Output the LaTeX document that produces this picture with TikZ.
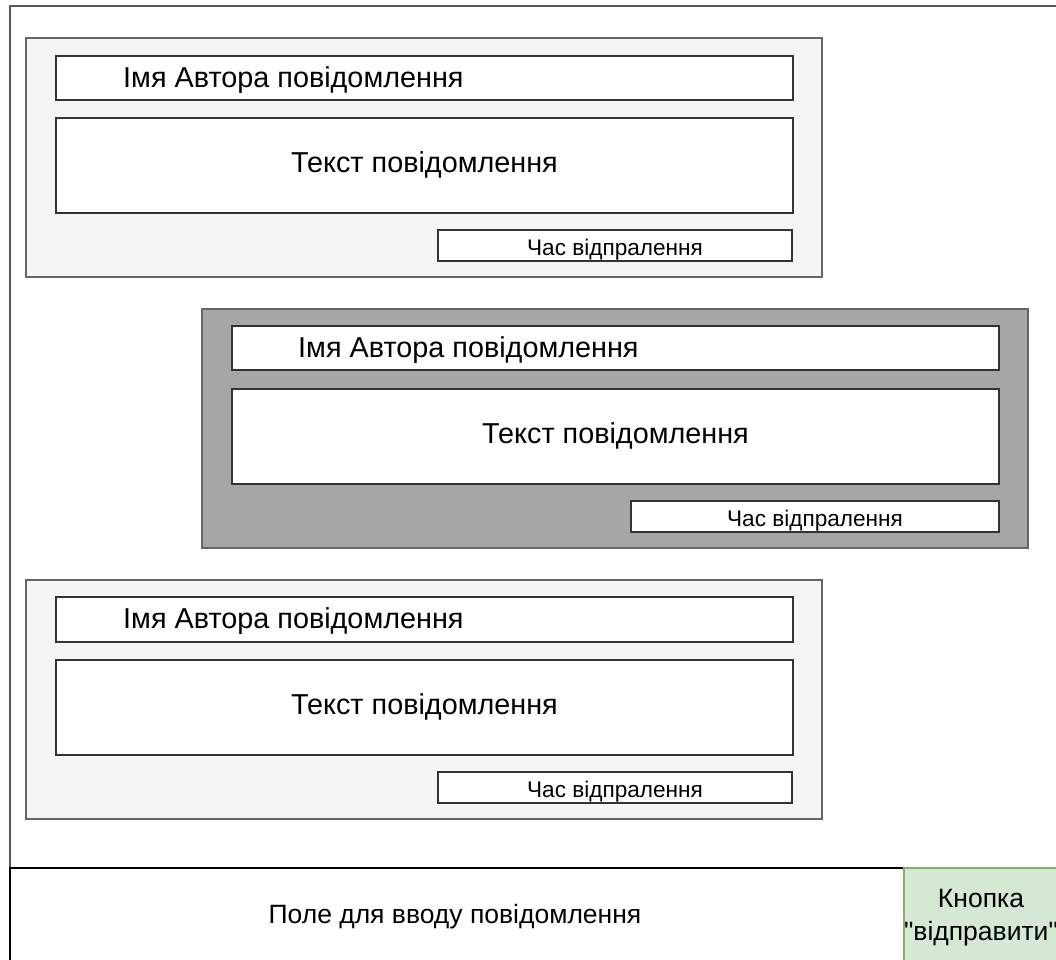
\documentclass[tikz,border=0pt]{standalone}
\usepackage{fontspec}
\setmainfont{Liberation Sans}
\begin{document}
\begin{tikzpicture}[x=1pt,y=-1pt,
  frame/.style={draw=black!65,line width=1.6pt},
  bubble/.style={draw=black!60,line width=1.5pt,fill=#1},
  field/.style={draw=black!80,line width=1.5pt,fill=white},
  bigtxt/.style={font=\fontsize{28.8}{33}\selectfont,inner sep=0pt,anchor=base},
  smalltxt/.style={font=\fontsize{22.6}{26}\selectfont,inner sep=0pt,anchor=base},
  inputtxt/.style={font=\fontsize{26.5}{30}\selectfont,inner sep=0pt,anchor=base},
]
\useasboundingbox (0,0) rectangle (1056,959);
\clip (0,0) rectangle (1056,959);

% outer window
\draw[frame] (10,6) rectangle (1070,975);

% message 1
\draw[bubble=black!4] (26,38) rectangle (822,277);
\draw[field] (56,56) rectangle (793,100);
\node[bigtxt,anchor=base west] (n1) at (123,87) {Імя Автора повідомлення};
\draw[field] (56,118) rectangle (793,213);
\node[bigtxt] (t1) at (424.5,172) {Текст повідомлення};
\draw[field] (438,230) rectangle (792,261);
\node[smalltxt] (h1) at (615,255) {Час відпралення};

% message 2
\draw[bubble=black!35] (202,309) rectangle (1028,548);
\draw[field] (232,326) rectangle (999,370);
\node[bigtxt,anchor=base west] (n2) at (298,357) {Імя Автора повідомлення};
\draw[field] (232,389) rectangle (999,484);
\node[bigtxt] (t2) at (615.5,443) {Текст повідомлення};
\draw[field] (631,501) rectangle (999,532);
\node[smalltxt] (h2) at (815,526) {Час відпралення};

% message 3
\draw[bubble=black!4] (26,580) rectangle (822,819);
\draw[field] (56,597) rectangle (793,642);
\node[bigtxt,anchor=base west] (n3) at (123,628) {Імя Автора повідомлення};
\draw[field] (56,660) rectangle (793,755);
\node[bigtxt] (t3) at (424.5,714) {Текст повідомлення};
\draw[field] (438,772) rectangle (792,803);
\node[smalltxt] (h3) at (615,797) {Час відпралення};

% input row
\draw[draw=black,line width=2.6pt,fill=white] (10,868) rectangle (904,990);
\node[inputtxt] (inp) at (455,923) {Поле для вводу повідомлення};
\fill[fill={rgb,255:red,213;green,232;blue,212}] (904,868) rectangle (1080,990);
\draw[draw={rgb,255:red,130;green,179;blue,102},line width=2pt] (1080,868) -- (904,868) -- (904,990);
\node[inputtxt] (btn1) at (981,907) {Кнопка};
\node[inputtxt] (btn2) at (981,940) {\textquotedbl відправити\textquotedbl};
\end{tikzpicture}
\end{document}
